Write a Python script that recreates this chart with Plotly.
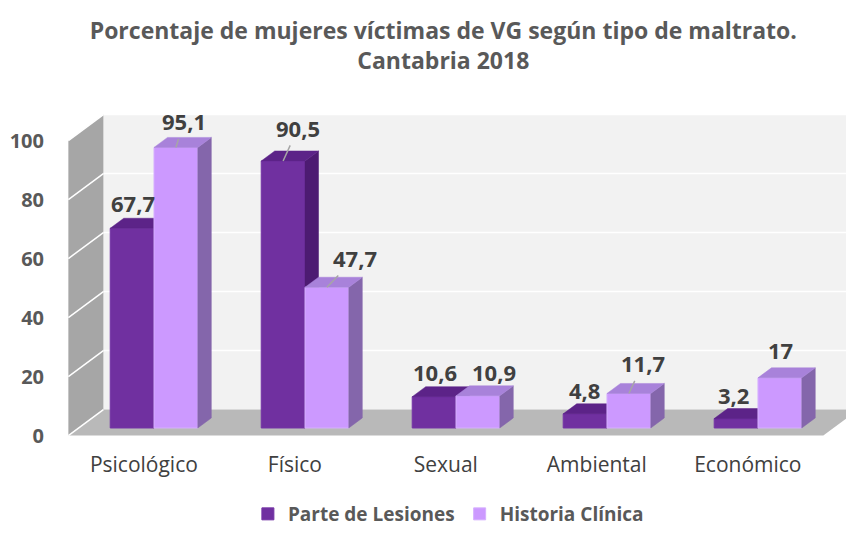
import plotly.graph_objects as go

# ---------------- data ----------------
categories = ["Psicológico", "Físico", "Sexual", "Ambiental", "Económico"]
parte_lesiones = [67.7, 90.5, 10.6, 4.8, 3.2]
historia_clinica = [95.1, 47.7, 10.9, 11.7, 17]
series_names = ["Parte de Lesiones", "Historia Clínica"]
y_ticks = [0, 20, 40, 60, 80, 100]
title_text = "Porcentaje de mujeres víctimas de VG según tipo de maltrato.<br>Cantabria 2018"

# ---------------- style / pseudo-3D geometry ----------------
FRONT = ["#7030a0", "#cc99ff"]
TOP = ["#5c2388", "#a882da"]
SIDE = ["#4d1b72", "#8466ab"]
EDGE = ["#7434a6", "#d6b0ff"]
# label offsets (px) from the front-top centre of each bar
LABEL_OFF = [[(1, -25), (15, -33), (1, -25), (-1, -24), (-3, -24)],
             [(8, -26), (28, -29), (16, -24), (14, -30), (1, -28)]]
LEADER = [[False, True, False, False, False],
          [True, True, False, True, False]]

BAR_W = 0.29          # width of one bar (category units)
DX, DY = 0.232, 8.81  # full depth of the box, in axis units
Z0 = 0.29             # depth of bar front faces (0 = front of floor, 1 = back wall)
BZ = 0.386            # depth of bars
X_L, X_R = -0.5, len(categories) - 0.5
X_RANGE = [-0.722, 4.583]
Y_RANGE = [-7.46, 145.08]


def P(X, Y, z):
    return X + (z - Z0) * DX, Y + (z - Z0) * DY


def path(pts):
    return "M " + " L ".join(f"{x:.4f},{y:.4f}" for x, y in pts) + " Z"


def fmt(v):
    return str(int(v)) if float(v).is_integer() else f"{v:.1f}".replace(".", ",")


fig = go.Figure()

# walls, floor and gridlines
shapes = []
ymax = max(y_ticks)
shapes.append(dict(type="path", xref="x", yref="y", layer="below", line=dict(width=0),
                   fillcolor="#f2f2f2",
                   path=path([P(X_L, 0, 1), P(X_R, 0, 1), P(X_R, ymax, 1), P(X_L, ymax, 1)])))
shapes.append(dict(type="path", xref="x", yref="y", layer="below", line=dict(width=0),
                   fillcolor="#a6a6a6",
                   path=path([P(X_L, 0, 0), P(X_L, 0, 1), P(X_L, ymax, 1), P(X_L, ymax, 0)])))
shapes.append(dict(type="path", xref="x", yref="y", layer="below", line=dict(width=0),
                   fillcolor="#b9b9b9",
                   path=path([P(X_L, 0, 0), P(X_R, 0, 0), P(X_R, 0, 1), P(X_L, 0, 1)])))
for v in y_ticks:
    x0, y0 = P(X_L, v, 0)
    x1, y1 = P(X_L, v, 1)
    shapes.append(dict(type="line", xref="x", yref="y", layer="below",
                       x0=x0, y0=y0, x1=x1, y1=y1, line=dict(color="white", width=1.5)))
    if v > 0:
        x2, y2 = P(X_R, v, 1)
        shapes.append(dict(type="line", xref="x", yref="y", layer="below",
                           x0=x1, y0=y1, x1=x2, y1=y2, line=dict(color="white", width=1.5)))

# bars, each series on its own overlaid subplot so later series cover earlier ones
annotations = []
for s, (name, vals) in enumerate(zip(series_names, [parte_lesiones, historia_clinica])):
    xa = "x" if s == 0 else "x2"
    ya = "y" if s == 0 else "y2"
    offset = -BAR_W if s == 0 else 0.0
    xs = list(range(len(categories)))
    fig.add_trace(go.Bar(x=xs, y=vals, name=name, width=BAR_W, offset=offset,
                         marker=dict(color=FRONT[s], line=dict(color=EDGE[s], width=1)),
                         xaxis=xa, yaxis=ya, hoverinfo="skip"))
    top_x, top_y, side_x, side_y = [], [], [], []
    for i, v in enumerate(vals):
        a = i + offset
        b = a + BAR_W
        pts = [P(a, v, Z0), P(b, v, Z0), P(b, v, Z0 + BZ), P(a, v, Z0 + BZ), P(a, v, Z0)]
        top_x += [p[0] for p in pts] + [None]
        top_y += [p[1] for p in pts] + [None]
        pts = [P(b, 0, Z0), P(b, 0, Z0 + BZ), P(b, v, Z0 + BZ), P(b, v, Z0), P(b, 0, Z0)]
        side_x += [p[0] for p in pts] + [None]
        side_y += [p[1] for p in pts] + [None]
        cx, cy = P(a + BAR_W / 2, v, Z0)
        ox, oy = LABEL_OFF[s][i]
        annotations.append(dict(
            x=cx, y=cy, xref=xa, yref=ya, text=fmt(v), showarrow=True,
            ax=ox, ay=oy, arrowhead=0, arrowwidth=1.5, standoff=0, startstandoff=1,
            arrowcolor="#a6a6a6" if LEADER[s][i] else "rgba(0,0,0,0)",
            font=dict(family="Open Sans", size=22, color="#404040", weight="bold")))
    for xx, yy, col in [(side_x, side_y, SIDE[s]), (top_x, top_y, TOP[s])]:
        fig.add_trace(go.Scatter(x=xx, y=yy, mode="lines", fill="toself", fillcolor=col,
                                 line=dict(color=col, width=0.5), showlegend=False,
                                 xaxis=xa, yaxis=ya, hoverinfo="skip"))

fig.update_layout(
    width=846, height=533,
    margin=dict(l=45, r=0, t=0, b=83),
    paper_bgcolor="white", plot_bgcolor="rgba(0,0,0,0)",
    shapes=shapes, annotations=annotations,
    title=dict(text=title_text, x=0.524, xanchor="center", xref="container",
               y=1 - 39 / 533, yanchor="middle", yref="container",
               font=dict(family="Open Sans", size=23, color="#595959", weight="bold")),
    xaxis=dict(range=X_RANGE, showgrid=False, zeroline=False, showline=False, ticks="",
               tickvals=[i - Z0 * DX for i in range(len(categories))], ticktext=categories,
               tickfont=dict(family="Open Sans", size=21, color="#404040"), fixedrange=True),
    yaxis=dict(range=Y_RANGE, showgrid=False, zeroline=False, showline=False, ticks="",
               tickvals=[v - Z0 * DY for v in y_ticks], ticktext=[str(v) for v in y_ticks],
               tickfont=dict(family="Open Sans", size=20, color="#595959", weight="bold"),
               fixedrange=True),
    xaxis2=dict(overlaying="x", matches="x", range=X_RANGE, visible=False),
    yaxis2=dict(overlaying="y", matches="y", range=Y_RANGE, visible=False),
    legend=dict(orientation="h", x=0.53, xanchor="center", xref="container",
                y=-0.008, yanchor="bottom", yref="container",
                font=dict(family="Open Sans", size=19, color="#595959", weight="bold"),
                itemwidth=30, traceorder="normal"),
    showlegend=True,
)

fig.write_html("out.html", config={"displayModeBar": False},
               post_script="document.body.style.margin='0';document.body.style.padding='0';")
